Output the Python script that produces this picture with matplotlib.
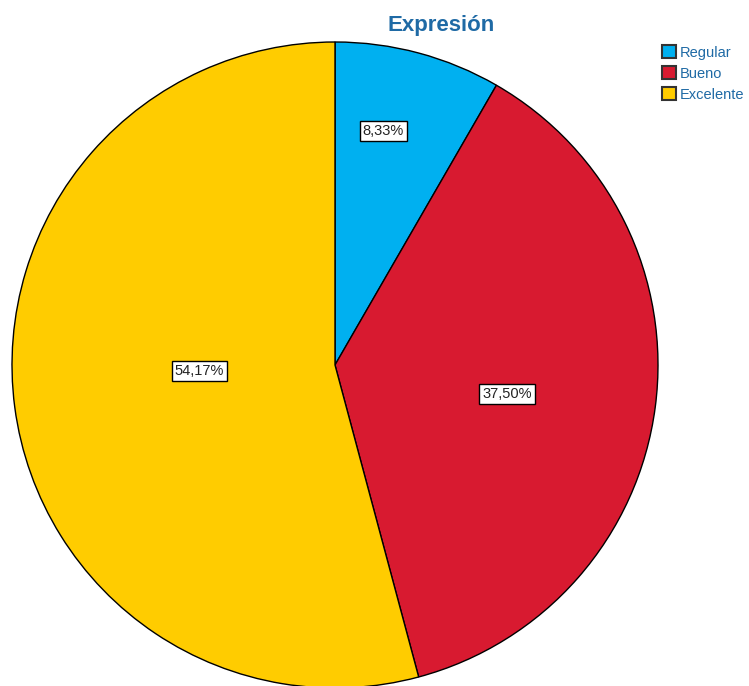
import matplotlib
matplotlib.use("Agg")
import matplotlib.pyplot as plt
from matplotlib.patches import Patch
import numpy as np

plt.rcParams["font.family"] = ["Liberation Sans", "DejaVu Sans"]

categories = ["Regular", "Bueno", "Excelente"]
percentages = [8.33, 37.50, 54.17]
pct_labels = ["8,33%", "37,50%", "54,17%"]
colors = ["#00b0f0", "#d81a30", "#ffcc00"]
# label placement (fraction of radius, angle in degrees) as in the original
label_pos = [(0.74, 78.4), (0.54, -9.6), (0.42, 182.5)]

W, H = 749, 686
fig = plt.figure(figsize=(W / 100, H / 100), dpi=100)
ax = fig.add_axes([0, 0, 1, 1])

cx, cy, r = 335, H - 365, 323
wedges, _ = ax.pie(percentages, colors=colors, startangle=90, counterclock=False,
                   center=(cx, cy), radius=r, frame=True,
                   wedgeprops=dict(edgecolor="black", linewidth=1.0))
ax.set_xlim(0, W)
ax.set_ylim(0, H)
ax.set_aspect("equal")
ax.axis("off")

for (frac, ang), txt in zip(label_pos, pct_labels):
    a = np.deg2rad(ang)
    ax.text(cx + frac * r * np.cos(a), cy + frac * r * np.sin(a), txt,
            ha="center", va="center", fontsize=10.5, color="#222222",
            bbox=dict(boxstyle="square,pad=0.2", fc="white", ec="black", lw=1.0))

fig.text(441 / W, 1 - 26 / H, "Expresión", ha="center", va="center",
         fontsize=16, fontweight="bold", color="#1f6aa5")

handles = [Patch(facecolor=c, edgecolor="#333333", linewidth=1.5) for c in colors]
leg = fig.legend(handles, categories, loc="upper left",
                 bbox_to_anchor=(662 / W, 1 - 45 / H), frameon=False,
                 fontsize=10.5, handlelength=0.95, handleheight=1.0,
                 handletextpad=0.3, labelspacing=0.45, borderpad=0, borderaxespad=0)
for t in leg.get_texts():
    t.set_color("#1f6aa5")

fig.savefig("out.png", dpi=100)
